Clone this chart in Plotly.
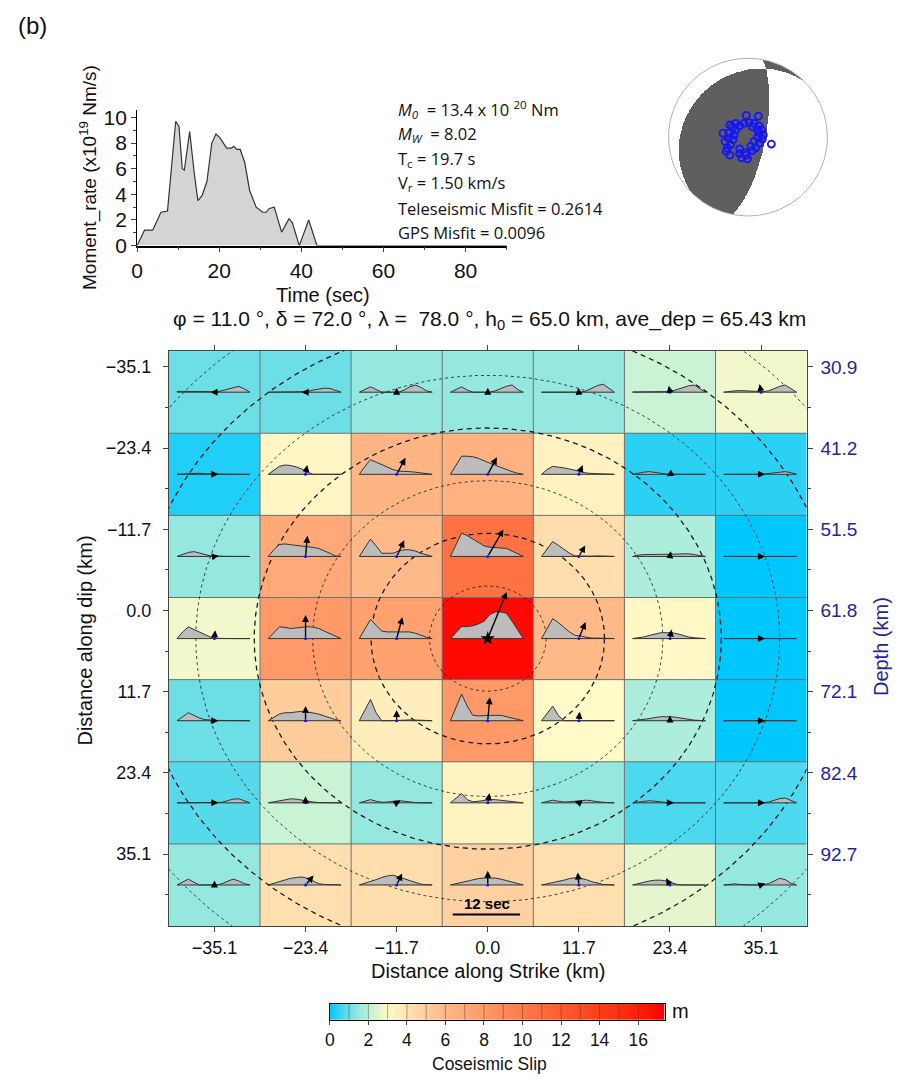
import numpy as np
import plotly.graph_objects as go

W, H = 897, 1082

# ---------------- data ----------------
mr_time = [0, 1.8, 3.8, 5.8, 7.4, 9.4, 10.2, 11.0, 11.5, 12.8, 13.9, 14.8, 15.8, 17.0,
           18.2, 19.2, 20.2, 21.0, 21.8, 23.0, 23.5, 24.3, 25.1, 26.2, 27.4, 29.0, 30.6,
           31.4, 32.2, 33.4, 35.2, 37.0, 37.8, 39.5, 41.8, 43.8, 90.0]
mr_rate = [0, 1.2, 1.2, 2.6, 2.7, 9.7, 9.3, 6.0, 5.9, 8.9, 5.7, 3.5, 3.9, 5.0,
           8.0, 8.7, 8.4, 8.0, 7.6, 7.6, 7.75, 7.5, 7.5, 6.5, 4.3, 3.0, 2.6,
           2.6, 2.9, 3.0, 1.05, 2.1, 1.8, 0.0, 2.0, 0.0, 0.0]

strike, dip, rake_avg = 11.0, 72.0, 78.0

sta_x = [-0.021, 0.130, -0.227, -0.315, -0.29, -0.26, -0.273, -0.227, -0.105, -0.08,
         -0.008, -0.021, 0.055, 0.097, 0.147, 0.181, 0.193, 0.172, 0.139, 0.076,
         0.013, -0.05, -0.105, -0.155, -0.176, -0.189, -0.218, 0.294, -0.105, -0.038,
         0.034, 0.076, 0.122, 0.139, -0.155, -0.197, 0.055, 0.118, -0.24, -0.248]
sta_y = [0.275, 0.267, 0.154, 0.05, -0.054, -0.1375, -0.179, -0.229, -0.15, -0.2625,
         -0.275, -0.229, -0.167, -0.1375, -0.075, -0.025, 0.029, 0.092, 0.142, 0.175,
         0.183, 0.175, 0.142, 0.092, 0.029, -0.033, -0.096, -0.0875, -0.208, -0.2,
         -0.117, -0.054, 0.0, 0.058, 0.175, 0.125, 0.133, 0.092, 0.05, -0.0125]

strike_km = [-35.1, -23.4, -11.7, 0.0, 11.7, 23.4, 35.1]
dip_km = [-35.1, -23.4, -11.7, 0.0, 11.7, 23.4, 35.1]
strike_labels = ["\u221235.1", "\u221223.4", "\u221211.7", "0.0", "11.7", "23.4", "35.1"]
dip_labels = ["\u221235.1", "\u221223.4", "\u221211.7", "0.0", "11.7", "23.4", "35.1"]
depth_ticks = [30.9, 41.2, 51.5, 61.8, 72.1, 82.4, 92.7]

slip = [
    [1.0, 1.0, 1.5, 1.5, 1.5, 2.2, 2.8],
    [0.3, 3.2, 6.3, 6.5, 3.4, 0.4, 0.4],
    [1.5, 7.0, 6.0, 10.5, 4.3, 1.8, 0.0],
    [2.8, 8.0, 7.5, 17.0, 6.0, 3.1, 0.0],
    [1.0, 5.0, 3.6, 8.0, 3.0, 1.8, 0.0],
    [0.8, 2.2, 1.5, 3.3, 1.5, 0.7, 0.7],
    [1.5, 4.2, 4.3, 4.8, 4.2, 2.6, 1.5],
]
slip_rake = [
    [180, 180, 90, 90, 95, 100, 100],
    [0, 80, 62, 62, 68, 210, 0],
    [10, 85, 65, 60, 60, 80, 0],
    [85, 90, 75, 68, 68, 80, 0],
    [0, 90, 90, 85, 85, 90, 0],
    [0, 90, 30, 80, 160, 0, 0],
    [90, 50, 65, 90, 95, 120, 20],
]

stf_time = [0, 1, 2, 3, 4, 5, 6, 7, 8, 9, 10, 11, 12, 13]
stf_row1 = [
    [0.03, 0.03, 0.03, 0.03, 0.03, 0.03, 0.02, 0.0, 0.05, 0.10, 0.15, 0.22, 0.12, 0],
    [0, 0, 0, 0, 0, 0, 0, 0.02, 0.08, 0.12, 0.15, 0.14, 0.08, 0],
    [0, 0.10, 0.20, 0.10, 0, 0, 0, 0, 0.08, 0.20, 0.27, 0.18, 0.05, 0],
    [0, 0.10, 0.20, 0.08, 0, 0, 0, 0, 0.05, 0.15, 0.22, 0.27, 0.10, 0],
    [0, 0, 0, 0, 0, 0, 0, 0, 0.05, 0.15, 0.25, 0.30, 0.15, 0],
    [0.01, 0.01, 0.01, 0.01, 0.01, 0.01, 0.02, 0.04, 0.10, 0.17, 0.24, 0.27, 0.14, 0],
    [0, 0.03, 0.05, 0.06, 0.05, 0.03, 0.02, 0.02, 0.05, 0.15, 0.22, 0.27, 0.12, 0],
]
stf_row2 = [
    [0, 0.01, 0.02, 0.03, 0.04, 0.02, 0.01, 0, 0, 0, 0, 0, 0, 0],
    [0, 0.15, 0.30, 0.35, 0.33, 0.28, 0.20, 0.08, 0, 0, 0, 0, 0, 0],
    [0, 0.30, 0.55, 0.45, 0.35, 0.25, 0.18, 0.12, 0.12, 0.10, 0.08, 0.05, 0.02, 0],
    [0, 0.35, 0.68, 0.68, 0.66, 0.60, 0.50, 0.42, 0.34, 0.25, 0.18, 0.10, 0.04, 0],
    [0, 0.18, 0.30, 0.28, 0.24, 0.20, 0.15, 0.10, 0.05, 0.03, 0.02, 0.01, 0.01, 0],
    [0, 0.05, 0.08, 0.10, 0.08, 0.04, 0.01, 0, 0, 0, 0, 0, 0, 0],
    [0, 0, 0, 0, 0, 0, 0, 0, 0.03, 0.06, 0.09, 0.10, 0.06, 0],
]
stf_row3 = [
    [0, 0.08, 0.15, 0.18, 0.12, 0.06, 0.02, 0.01, 0, 0, 0, 0, 0, 0],
    [0, 0.25, 0.45, 0.47, 0.44, 0.42, 0.40, 0.38, 0.34, 0.30, 0.22, 0.12, 0.02, 0],
    [0, 0.35, 0.65, 0.40, 0.12, 0.12, 0.12, 0.20, 0.25, 0.25, 0.20, 0.12, 0.05, 0],
    [0, 0.45, 0.88, 0.78, 0.65, 0.50, 0.40, 0.35, 0.34, 0.33, 0.30, 0.20, 0.10, 0],
    [0, 0.30, 0.56, 0.42, 0.28, 0.12, 0.02, 0.01, 0.02, 0.01, 0.02, 0.02, 0.01, 0],
    [0, 0.05, 0.07, 0.08, 0.08, 0.08, 0.08, 0.08, 0.08, 0.10, 0.10, 0.07, 0.03, 0],
    [0, 0, 0, 0, 0, 0, 0, 0, 0, 0, 0, 0, 0, 0],
]
stf_row4 = [
    [0, 0.25, 0.44, 0.35, 0.25, 0.15, 0.05, 0.01, 0, 0, 0, 0, 0, 0],
    [0, 0.22, 0.44, 0.42, 0.38, 0.40, 0.43, 0.45, 0.43, 0.38, 0.28, 0.18, 0.08, 0],
    [0, 0.35, 0.72, 0.50, 0.28, 0.25, 0.25, 0.25, 0.25, 0.25, 0.20, 0.12, 0.05, 0],
    [0, 0.22, 0.45, 0.45, 0.48, 0.55, 0.65, 0.90, 1.00, 1.00, 0.95, 0.65, 0.30, 0],
    [0, 0.40, 0.75, 0.60, 0.42, 0.25, 0.12, 0.10, 0.05, 0.02, 0.02, 0.01, 0.01, 0],
    [0, 0.03, 0.06, 0.12, 0.18, 0.22, 0.22, 0.22, 0.18, 0.12, 0.06, 0.03, 0.01, 0],
    [0, 0, 0, 0, 0, 0, 0, 0, 0, 0, 0, 0, 0, 0],
]
stf_row5 = [
    [0, 0.15, 0.30, 0.20, 0.10, 0.04, 0.02, 0.01, 0.01, 0, 0, 0, 0, 0],
    [0, 0.12, 0.25, 0.30, 0.30, 0.33, 0.35, 0.33, 0.30, 0.25, 0.18, 0.10, 0.04, 0],
    [0, 0.40, 0.80, 0.30, 0, 0, 0, 0.01, 0.02, 0.03, 0.03, 0.02, 0.01, 0],
    [0, 0.50, 1.00, 0.55, 0.20, 0.18, 0.20, 0.20, 0.20, 0.20, 0.15, 0.10, 0.04, 0],
    [0, 0.28, 0.55, 0.20, 0, 0, 0, 0, 0, 0.01, 0.02, 0.01, 0, 0],
    [0, 0.02, 0.05, 0.08, 0.12, 0.15, 0.15, 0.15, 0.12, 0.08, 0.05, 0.02, 0.01, 0],
    [0, 0, 0, 0, 0, 0, 0, 0, 0, 0, 0, 0, 0, 0],
]
stf_row6 = [
    [0, 0, 0, 0, 0, 0, 0, 0, 0.02, 0.08, 0.14, 0.15, 0.06, 0],
    [0, 0.04, 0.08, 0.12, 0.15, 0.14, 0.10, 0.06, 0.03, 0.01, 0, 0, 0, 0],
    [0, 0.06, 0.12, 0.06, 0.02, 0.03, 0.06, 0.08, 0.06, 0.03, 0.01, 0, 0, 0],
    [0, 0.18, 0.35, 0.12, 0.04, 0.06, 0.10, 0.12, 0.12, 0.10, 0.08, 0.05, 0.02, 0],
    [0, 0.05, 0.10, 0.06, 0.03, 0.04, 0.05, 0.08, 0.10, 0.07, 0.04, 0.02, 0.01, 0],
    [0, 0.03, 0.06, 0.08, 0.06, 0.03, 0.01, 0, 0, 0, 0, 0, 0, 0],
    [0, 0, 0, 0, 0, 0, 0, 0, 0.03, 0.10, 0.16, 0.18, 0.08, 0],
]
stf_row7 = [
    [0, 0.12, 0.22, 0.10, 0, 0, 0, 0, 0.05, 0.15, 0.22, 0.15, 0.05, 0],
    [0, 0.06, 0.12, 0.18, 0.25, 0.28, 0.30, 0.25, 0.15, 0.05, 0.02, 0.01, 0, 0],
    [0, 0.06, 0.12, 0.20, 0.28, 0.34, 0.37, 0.30, 0.22, 0.15, 0.08, 0.03, 0.01, 0],
    [0, 0.05, 0.10, 0.15, 0.20, 0.24, 0.26, 0.27, 0.26, 0.22, 0.16, 0.10, 0.04, 0],
    [0, 0.04, 0.08, 0.12, 0.18, 0.24, 0.27, 0.25, 0.20, 0.12, 0.06, 0.02, 0.01, 0],
    [0, 0.04, 0.10, 0.15, 0.18, 0.18, 0.15, 0.08, 0.02, 0, 0, 0, 0, 0],
    [0, 0.03, 0.04, 0.02, 0, 0, 0, 0, 0.05, 0.15, 0.25, 0.20, 0.06, 0],
]
stf_rows = [stf_row1, stf_row2, stf_row3, stf_row4, stf_row5, stf_row6, stf_row7]

front_radii = [7.5, 15.0, 22.5, 30.0, 37.5, 45.0, 52.5]

cbar_ticks = [0, 2, 4, 6, 8, 10, 12, 14, 16]
slip_max = 17.37

# colour scale (slip value -> colour)
cs_vals = [0, 1, 2, 3, 4, 5, 6, 8, 10, 12, 14, 16, 17.37]
cs_cols = ['#00c8ff', '#6cdfe6', '#bdf0d8', '#fffac8', '#ffe4b4', '#ffcc9c', '#ffb888',
           '#ff9a68', '#ff7a48', '#ff5c30', '#ff3e18', '#ff2008', '#ff0000']
colorscale = [[v / slip_max, c] for v, c in zip(cs_vals, cs_cols)]

# ---------------- helpers ----------------
def fx(p):
    return p / W

def fy(p):
    return 1 - p / H

FONT = "Liberation Sans, Arial, sans-serif"
BLUE = '#24249a'

# main grid pixel geometry
GX0, GX1, GY0, GY1 = 164, 806, 352, 935
half = 40.95
kx = (GX1 - GX0) / (2 * half)   # px per km
ky = (GY1 - GY0) / (2 * half)
cell = 11.7
km_per_s = 0.72
amp_km = 27.0 / ky

# label axes: first label at px 368, last at px 862
LAB0, LAB1 = 368.0, 862.0
def label_range(v0, v1):
    s = (v1 - v0) / (LAB1 - LAB0)
    return [v1 + (GY1 - LAB1) * s, v0 - (LAB0 - GY0) * s]

fig = go.Figure()

# ---- slip heatmap ----
fig.add_trace(go.Heatmap(x=strike_km, y=dip_km, z=slip, colorscale=colorscale,
                         zmin=0, zmax=slip_max, showscale=False, hoverinfo='skip',
                         xaxis='x', yaxis='y'))

# cell borders
bx, by = [], []
for b in [-29.25, -17.55, -5.85, 5.85, 17.55, 29.25]:
    bx += [b, b, None]; by += [-half, half, None]
    bx += [-half, half, None]; by += [b, b, None]
fig.add_trace(go.Scatter(x=bx, y=by, mode='lines', line=dict(color='#6f6f6f', width=1),
                         hoverinfo='skip', xaxis='x', yaxis='y'))

# rupture-front circles
th = np.linspace(0, 2 * np.pi, 721)
for k, r in enumerate(front_radii):
    wide = (k % 2 == 1)
    fig.add_trace(go.Scatter(x=r * np.cos(th), y=r * np.sin(th), mode='lines',
                             line=dict(color='#1a1a1a', width=1.3 if wide else 0.8,
                                       dash='5px,4px' if wide else '3px,3px'),
                             hoverinfo='skip', xaxis='x', yaxis='y'))

# source time functions
sx, sy = [], []
for i, yc in enumerate(dip_km):
    for j, xc in enumerate(strike_km):
        x0 = xc - cell / 2 + 0.09 * cell
        vals = stf_rows[i][j]
        xs = [x0 + t * km_per_s for t in stf_time]
        ys = [yc - a * amp_km for a in vals]
        sx += [xs[0]] + xs + [xs[-1], xs[0], None]
        sy += [yc] + ys + [yc, yc, None]
fig.add_trace(go.Scatter(x=sx, y=sy, mode='lines', fill='toself', fillcolor='#bcbcbc',
                         line=dict(color='#333333', width=1), hoverinfo='skip',
                         xaxis='x', yaxis='y'))

# centre dots
cx = [xc for yc in dip_km for xc in strike_km]
cy = [yc for yc in dip_km for xc in strike_km]
fig.add_trace(go.Scatter(x=cx, y=cy, mode='markers', marker=dict(color='#1010ff', size=3),
                         hoverinfo='skip', xaxis='x', yaxis='y'))
fig.add_trace(go.Scatter(x=[0.0], y=[0.0], mode='markers',
                         marker=dict(symbol='star', color='black', size=11),
                         hoverinfo='skip', xaxis='x', yaxis='y'))

# 12 sec scale bar
fig.add_trace(go.Scatter(x=[-4.5, -4.5 + 12 * km_per_s], y=[39.3, 39.3], mode='lines',
                         line=dict(color='black', width=2), hoverinfo='skip',
                         xaxis='x', yaxis='y'))

# invisible traces for label axes
fig.add_trace(go.Scatter(x=[0], y=[60], mode='markers', marker=dict(opacity=0),
                         hoverinfo='skip', xaxis='x', yaxis='y2'))
fig.add_trace(go.Scatter(x=[0], y=[0], mode='markers', marker=dict(opacity=0),
                         hoverinfo='skip', xaxis='x', yaxis='y6'))

# ---- moment rate ----
fig.add_trace(go.Scatter(x=mr_time, y=mr_rate, mode='lines', fill='tozeroy',
                         fillcolor='#d4d4d4', line=dict(color='#333333', width=1.2),
                         hoverinfo='skip', xaxis='x3', yaxis='y3'))

# ---- beachball ----
n = 361
g = np.linspace(-1, 1, n)
X, Y = np.meshgrid(g, g)
R = np.sqrt(X ** 2 + Y ** 2)
inc = 2 * np.arcsin(np.clip(R, 0, 1) / np.sqrt(2))
phi = np.arctan2(X, Y) - np.radians(strike)
d = np.radians(dip)
l = np.radians(rake_avg)
F = (np.cos(l) * np.sin(d) * np.sin(inc) ** 2 * np.sin(2 * phi)
     - np.cos(l) * np.cos(d) * np.sin(2 * inc) * np.cos(phi)
     + np.sin(l) * np.sin(2 * d) * (np.cos(inc) ** 2 - np.sin(inc) ** 2 * np.sin(phi) ** 2)
     + np.sin(l) * np.cos(2 * d) * np.sin(2 * inc) * np.sin(phi))
Z = np.where(F > 0, 1.0, 0.0)
Z[R > 1] = np.nan
fig.add_trace(go.Heatmap(x=g, y=g, z=Z, colorscale=[[0, 'white'], [0.5, 'white'],
                                                      [0.5, '#5f5f5f'], [1, '#5f5f5f']],
                         zmin=0, zmax=1, showscale=False, hoverinfo='skip',
                         xaxis='x4', yaxis='y4'))
fig.add_trace(go.Scatter(x=np.cos(th), y=np.sin(th), mode='lines',
                         line=dict(color='#b0b0b0', width=1), hoverinfo='skip',
                         xaxis='x4', yaxis='y4'))
fig.add_trace(go.Scatter(x=sta_x, y=sta_y, mode='markers',
                         marker=dict(symbol='circle-open', color='#1414ff', size=7,
                                     line=dict(width=1.8, color='#1414ff')),
                         hoverinfo='skip', xaxis='x4', yaxis='y4'))

# ---- colour bar ----
cb = np.linspace(0, slip_max, 500)
fig.add_trace(go.Heatmap(x=cb, y=[0], z=[cb], colorscale=colorscale, zmin=0, zmax=slip_max,
                         showscale=False, hoverinfo='skip', xaxis='x5', yaxis='y5'))
sepx, sepy = [], []
for k in range(1, 18):
    sepx += [k, k, None]; sepy += [-0.5, 0.5, None]
fig.add_trace(go.Scatter(x=sepx, y=sepy, mode='lines',
                         line=dict(color='rgba(60,60,60,0.45)', width=1),
                         hoverinfo='skip', xaxis='x5', yaxis='y5'))

# ---------------- annotations ----------------
ann = []
for i, yc in enumerate(dip_km):
    for j, xc in enumerate(strike_km):
        Lp = 3.0 * max(slip[i][j], 1.3)
        r = np.radians(slip_rake[i][j])
        ann.append(dict(x=xc + Lp * np.cos(r) / kx, y=yc - Lp * np.sin(r) / ky,
                        ax=xc, ay=yc, xref='x', yref='y', axref='x', ayref='y',
                        showarrow=True, arrowhead=2, arrowsize=1, arrowwidth=1.4,
                        arrowcolor='black', text='', standoff=0, startstandoff=0))

def txt(x, y, s, size=16, color='#111', angle=0, xanchor='center', family=FONT, yanchor='middle'):
    ann.append(dict(x=fx(x), y=fy(y), xref='paper', yref='paper', text=s, showarrow=False,
                    textangle=angle, xanchor=xanchor, yanchor=yanchor,
                    font=dict(size=size, color=color, family=family)))

txt(27, 22, "(b)", size=24)
txt(83, 176, "Moment_rate (x10<sup>19</sup> Nm/s)", size=19, angle=-90)
txt(319, 295, "Time (sec)", size=20)

TB = "Open Sans, sans-serif"
lines = ["<i>M<sub>0</sub></i>  = 13.4 x 10 <sup>20</sup> Nm",
         "<i>M<sub>W</sub></i>  = 8.02",
         "T<sub>c</sub> = 19.7 s",
         "V<sub>r</sub> = 1.50 km/s",
         "Teleseismic Misfit = 0.2614",
         "GPS Misfit = 0.0096"]
for k, s in enumerate(lines):
    txt(393, 107 + 25 * k, s, size=16.5, xanchor='left', family=TB)

txt(487, 320, "\u03c6 = 11.0 \u00b0, \u03b4 = 72.0 \u00b0, \u03bb = \u00a078.0 \u00b0, "
              "h<sub>0</sub> = 65.0 km, ave_dep = 65.43 km", size=21)
txt(486, 981, "Distance along Strike (km)", size=20)
txt(80, 645, "Distance along dip (km)", size=20, angle=-90)
txt(881, 652, "Depth (km)", size=20, angle=-90, color=BLUE)
ann.append(dict(x=-0.15, y=37.8, xref='x', yref='y', text="<b>12 sec</b>", showarrow=False,
                font=dict(size=15, color='black', family=FONT)))
txt(679, 1021, "m", size=20)
txt(487, 1075, "Coseismic Slip", size=17.5)

# ---------------- layout ----------------
axis_common = dict(showgrid=False, zeroline=False)
dip_minor = [-29.25, -17.55, -5.85, 5.85, 17.55, 29.25, 40.95]
depth_minor = [36.05, 46.35, 56.65, 66.95, 77.25, 87.55, 97.85]
fig.update_layout(
    width=W, height=H, margin=dict(l=0, r=0, t=0, b=0),
    paper_bgcolor='white', plot_bgcolor='white', showlegend=False,
    font=dict(family=FONT, size=16, color='#111'),
    annotations=ann,
    xaxis=dict(domain=[fx(GX0), fx(GX1)], range=[-half, half], anchor='y',
               tickmode='array', tickvals=strike_km, ticktext=strike_labels,
               ticks='outside', ticklen=5, tickcolor='#444', showline=True,
               linecolor='#444', linewidth=1, mirror='ticks', tickfont=dict(size=18),
               **axis_common),
    yaxis=dict(domain=[fy(GY1), fy(GY0)], range=[half, -half], anchor='x',
               showticklabels=False, ticks='', showline=True,
               linecolor='#444', linewidth=1, mirror=True, **axis_common),
    yaxis6=dict(overlaying='y', side='left', anchor='x',
                range=label_range(dip_km[0], dip_km[-1]),
                tickmode='array', tickvals=dip_km, ticktext=dip_labels,
                ticks='outside', ticklen=5, tickcolor='#444', tickfont=dict(size=18),
                ticklabelstandoff=8,
                minor=dict(tickmode='array', tickvals=dip_minor,
                           ticks='outside', ticklen=3, tickcolor='#444'),
                **axis_common),
    yaxis2=dict(overlaying='y', side='right', anchor='x',
                range=label_range(depth_ticks[0], depth_ticks[-1]),
                tickmode='array', tickvals=depth_ticks,
                ticktext=[f"{v:.1f}" for v in depth_ticks],
                ticks='outside', ticklen=5, tickcolor='#444',
                tickfont=dict(size=19, color=BLUE), ticklabelstandoff=4,
                minor=dict(tickmode='array', tickvals=depth_minor,
                           ticks='outside', ticklen=3, tickcolor='#444'),
                **axis_common),
    xaxis3=dict(domain=[fx(132), fx(504)], range=[0, 90], anchor='y3',
                tickvals=[0, 20, 40, 60, 80], ticks='outside', ticklen=5,
                showline=True, linecolor='black', linewidth=1.6, tickfont=dict(size=21),
                minor=dict(tickvals=[10, 30, 50, 70, 90], ticks='outside', ticklen=3),
                **axis_common),
    yaxis3=dict(domain=[fy(245), fy(107.2)], range=[0, 10.6], anchor='x3',
                tickvals=[0, 2, 4, 6, 8, 10], ticks='outside', ticklen=5,
                showline=True, linecolor='black', linewidth=1.2, tickfont=dict(size=21),
                minor=dict(tickvals=[1, 3, 5, 7, 9], ticks='outside', ticklen=3),
                **axis_common),
    xaxis4=dict(domain=[fx(665), fx(829)], range=[-1.025, 1.025], anchor='y4',
                visible=False, **axis_common),
    yaxis4=dict(domain=[fy(217), fy(53)], range=[-1.025, 1.025], anchor='x4',
                visible=False, **axis_common),
    xaxis5=dict(domain=[fx(326), fx(663)], range=[0, slip_max], anchor='y5',
                tickvals=cbar_ticks, ticks='outside', ticklen=4, showline=True,
                linecolor='black', linewidth=1.2, mirror=True, tickfont=dict(size=17.5),
                **axis_common),
    yaxis5=dict(domain=[fy(1030), fy(1014)], range=[-0.5, 0.5], anchor='x5',
                showticklabels=False, ticks='', showline=True, linecolor='black',
                linewidth=1.2, mirror=True, **axis_common),
)

fig.write_html("out.html", config={'displayModeBar': False},
               post_script="document.body.style.margin='0';"
                           "document.body.style.overflow='hidden';")
